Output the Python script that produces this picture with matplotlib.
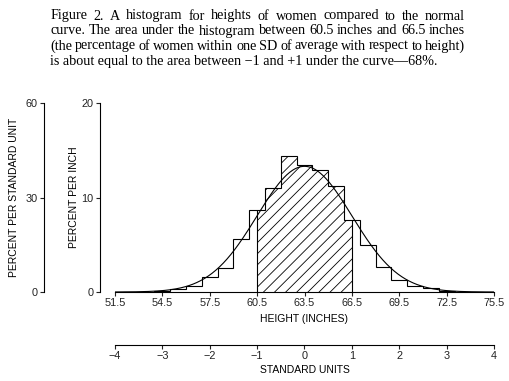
import numpy as np
import matplotlib
matplotlib.use('Agg')
import matplotlib.pyplot as plt

plt.rcParams['font.family'] = ['Liberation Sans', 'DejaVu Sans']
plt.rcParams['hatch.linewidth'] = 0.6

# histogram of women's heights, percent per inch, 1-inch bins
edges = np.arange(52, 75)  # 52 .. 74
heights = [0.0, 0.05, 0.12, 0.32, 0.67, 1.59, 2.54, 5.6, 8.72, 11.0, 14.4,
           13.4, 12.95, 11.2, 7.66, 4.94, 2.61, 1.24, 0.67, 0.4, 0.15, 0.05]
mean_h = 63.5
sd_h = 3.0
hatch_lo, hatch_hi = 60.5, 66.5

inch_ticks = [51.5, 54.5, 57.5, 60.5, 63.5, 66.5, 69.5, 72.5, 75.5]
su_ticks = [-4, -3, -2, -1, 0, 1, 2, 3, 4]
pct_inch_ticks = [0, 10, 20]
pct_su_ticks = [0, 30, 60]

caption = [
    "Figure 2.  A histogram for heights of women compared to the normal",
    "curve.  The area under the histogram between 60.5 inches and 66.5 inches",
    "(the percentage of women within one SD of average with respect to height)",
    "is about equal to the area between \u22121 and +1 under the curve\u201468%.",
]

W, H = 509, 381
fig = plt.figure(figsize=(W / 100, H / 100), dpi=100)

def px_rect(x0, y0, x1, y1):
    return [x0 / W, 1 - y1 / H, (x1 - x0) / W, (y1 - y0) / H]

ax = fig.add_axes(px_rect(115, 103, 494, 292))
ax.set_xlim(51.5, 75.5)
ax.set_ylim(0, 20)

# normal curve
xs = np.linspace(51.5, 75.5, 400)
ys = 100 / (sd_h * np.sqrt(2 * np.pi)) * np.exp(-0.5 * ((xs - mean_h) / sd_h) ** 2)
ax.plot(xs, ys, color='black', lw=0.8)

# histogram outline
ax.stairs(heights, edges, color='black', lw=0.8, baseline=0)

# hatched area between 60.5 and 66.5
heights = np.array(heights)
inner = [e for e in edges if hatch_lo < e < hatch_hi]
hx = np.array([hatch_lo] + inner + [hatch_hi])
hy = np.array([heights[np.searchsorted(edges, v, side='right') - 1] for v in hx])
ax.fill_between(hx, hy, step='post', facecolor='none', edgecolor='black',
                hatch='///', lw=0)
ax.vlines([hatch_lo, hatch_hi], 0, [hy[0], hy[-2]], color='black', lw=0.8)

for s in ['top', 'right']:
    ax.spines[s].set_visible(False)
ax.spines['left'].set_position(('outward', 11))
ax.spines['left'].set_bounds(0, 20)
ax.set_yticks(pct_inch_ticks)
ax.set_xticks(inch_ticks)
ax.tick_params(labelsize=7.8, length=3, width=0.8, colors='#222', pad=1.5)
ax.set_xlabel('HEIGHT (INCHES)', fontsize=7.5, labelpad=4)
ax.set_ylabel('PERCENT PER INCH', fontsize=7.5, labelpad=2)

# percent per standard unit axis
ax2 = ax.twinx()
ax2.set_ylim(0, 60)
ax2.yaxis.set_ticks_position('left')
ax2.yaxis.set_label_position('left')
for s in ['top', 'right', 'bottom']:
    ax2.spines[s].set_visible(False)
ax2.spines['left'].set_position(('outward', 51))
ax2.set_yticks(pct_su_ticks)
ax2.tick_params(labelsize=7.8, length=3, width=0.8, colors='#222', pad=1.5)
ax2.set_ylabel('PERCENT PER STANDARD UNIT', fontsize=7.5, labelpad=5)

# standard units axis
ax3 = ax.twiny()
ax3.set_xlim(-4, 4)
ax3.xaxis.set_ticks_position('bottom')
ax3.xaxis.set_label_position('bottom')
for s in ['top', 'right', 'left']:
    ax3.spines[s].set_visible(False)
ax3.spines['bottom'].set_position(('outward', 38))
ax3.set_xticks(su_ticks)
ax3.set_xticklabels([str(t).replace('-', '\u2212') for t in su_ticks])
ax3.tick_params(labelsize=7.8, length=3, width=0.8, colors='#222', pad=1.5)
ax3.set_xlabel('STANDARD UNITS', fontsize=7.5, labelpad=3)

# justified caption
renderer = fig.canvas.get_renderer()
x_left, x_right = 50.5, 465
line_y = [16, 31, 46, 61]
for i, line in enumerate(caption):
    words = line.split()
    kw = dict(fontsize=10.15, family='Liberation Serif', va='center', ha='left')
    if i == len(caption) - 1:
        fig.text(x_left / W, 1 - line_y[i] / H, line, **kw)
        continue
    texts = [fig.text(0, 1 - line_y[i] / H, w, **kw) for w in words]
    widths = [t.get_window_extent(renderer).width for t in texts]
    gap = (x_right - x_left - sum(widths)) / (len(words) - 1)
    x = x_left
    for t, w in zip(texts, widths):
        t.set_x(x / W)
        x += w + gap

fig.savefig('out.png', dpi=100)
